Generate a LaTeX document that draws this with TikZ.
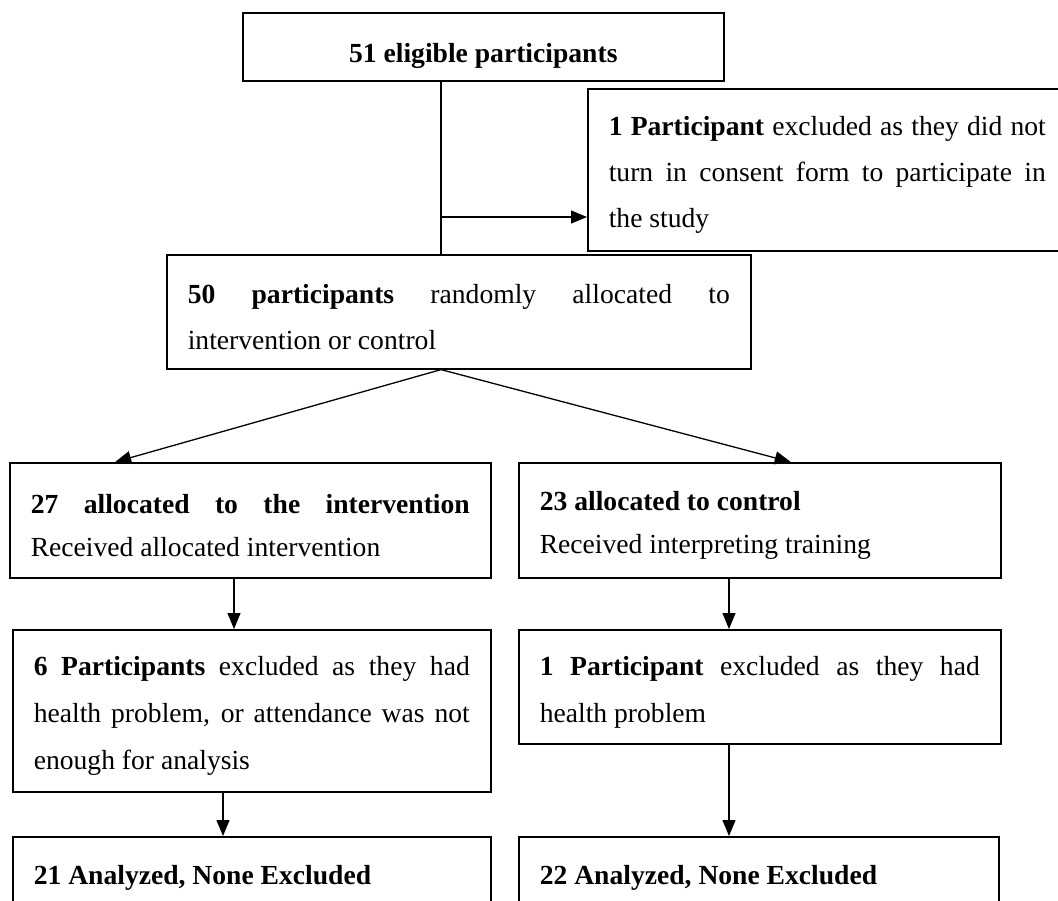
\documentclass[tikz,border=0pt]{standalone}
\usepackage{fontspec}
\setmainfont{Liberation Serif}
\usetikzlibrary{calc,arrows.meta}
\tolerance=10000
\hbadness=10000
\tikzset{
  box/.style={draw, line width=1.6pt, rectangle, anchor=north west, inner xsep=21pt, inner ysep=0pt,
    align=justify, font=\fontsize{27.6}{46}\selectfont,
    execute at begin node={\rule{0pt}{30pt}}},
  link/.style={line width=1.3pt},
  flow/.style={link, -{Triangle[length=16pt,width=13pt]}}
}

\begin{document}
\begin{tikzpicture}[x=1pt, y=-1pt]
			%%%%% FRAME %%%%%
			\useasboundingbox (0,0) rectangle (1058,900);
			\clip (0,0) rectangle (1058,900);
			
			%%%%% BOXES %%%%%
			\node[box, align=center, execute at begin node={}, text height=36pt, text depth=4pt,
			  minimum width=481, minimum height=68] (elig) at (242,12) {\textbf{51 eligible participants}};
			
			\node[box, text width=437, minimum height=162] (excl) at (587,88) {\textbf{1 Participant} excluded as they did not\linebreak turn in consent form to participate in\linebreak the study};
			
			\node[box, text width=542, minimum height=114] (rand) at (166,254) {\textbf{50 participants} randomly allocated to\linebreak intervention or control};
			
			\node[box, text width=439, minimum height=115, font=\fontsize{27.6}{43}\selectfont] (intv) at (9,462) {\textbf{27 allocated to the intervention}\linebreak Received allocated intervention};
			\node[box, text width=440, minimum height=115, font=\fontsize{27.6}{43}\selectfont, align=flush left] (ctrl) at (518,462) {\textbf{23 allocated to control}\\Received interpreting training};
			
			\node[box, text width=436, minimum height=162, font=\fontsize{27.6}{47}\selectfont] (exintv) at (12,629) {\textbf{6 Participants} excluded as they had\linebreak health problem, or attendance was not\linebreak enough for analysis};
			\node[box, text width=440, minimum height=114, font=\fontsize{27.6}{47}\selectfont] (exctrl) at (518,629) {\textbf{1 Participant} excluded as they had\linebreak health problem};
			
			\node[box, text width=436, minimum height=72, align=flush left] (anintv) at (12,836) {\textbf{21 Analyzed, None Excluded}};
			\node[box, text width=438, minimum height=72, align=flush left] (anctrl) at (518,836) {\textbf{22 Analyzed, None Excluded}};
			
			%%%%% CONNECTORS %%%%%
			\coordinate (split) at (441,217);
			\coordinate (colA) at (234,0);
			\coordinate (colB) at (223,0);
			\coordinate (colC) at (729,0);
			
			\draw[link] (elig.south -| split) -- (rand.north -| split);
			\draw[flow] (split) -- (excl.west |- split);
			
			\draw[flow] (rand.south -| split) -- ($(intv.north west)!0.22!(intv.north east)$);
			\draw[flow] (rand.south -| split) -- ($(ctrl.north west)!0.564!(ctrl.north east)$);
			
			\draw[flow] (intv.south -| colA) -- (exintv.north -| colA);
			\draw[flow] (ctrl.south -| colC) -- (exctrl.north -| colC);
			\draw[flow] (exintv.south -| colB) -- (anintv.north -| colB);
			\draw[flow] (exctrl.south -| colC) -- (anctrl.north -| colC);
		\end{tikzpicture}
\end{document}
